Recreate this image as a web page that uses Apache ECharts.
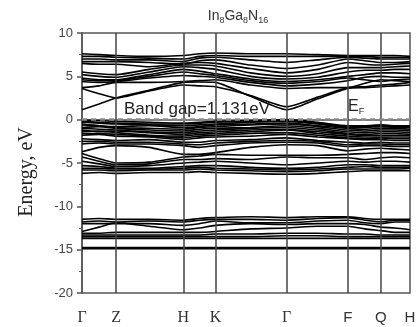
<!DOCTYPE html>
<html>
<head>
<meta charset="utf-8">
<script src="https://cdn.jsdelivr.net/npm/echarts@6/dist/echarts.min.js"></script>
<style>
  html, body { margin: 0; padding: 0; background: #fff; }
  #chart { width: 420px; height: 327px; }
</style>
</head>
<body>
<div id="chart"></div>
<script>
// k-path: high symmetry points (distance along path) and labels
var kPos = [0, 34, 101, 133, 204, 265, 298, 327];
var kLabels = ['Γ', 'Z', 'H', 'K', 'Γ', 'F', 'Q', 'H'];
// sample positions along the path where band energies were read
var kSamples = [0, 17, 34, 67, 101, 117, 133, 168, 204, 235, 265, 282, 298, 312, 327];

// conduction bands (eV)
var condBands = [
  [1.15, 1.8, 2.5, 3.4, 4.3, 4.35, 4.3, 2.7, 1.15, 2.4, 3.6, 3.7, 3.8, 3.9, 4.0],
  [3.6, 3.0, 2.5, 3.3, 4.0, 3.9, 3.8, 2.8, 1.5, 2.6, 3.7, 3.8, 4.0, 4.1, 4.3],
  [3.7, 3.9, 4.3, 4.3, 4.4, 4.5, 4.6, 4.0, 3.6, 3.7, 3.7, 4.2, 4.6, 4.5, 4.4],
  [4.4, 4.3, 4.4, 4.8, 5.1, 5.0, 4.9, 4.3, 3.9, 4.1, 4.5, 4.9, 5.0, 4.9, 4.9],
  [4.6, 4.5, 4.5, 5.0, 5.5, 5.3, 5.1, 4.5, 4.2, 4.4, 4.8, 4.6, 4.4, 4.6, 4.7],
  [4.8, 4.6, 4.6, 5.2, 5.8, 5.6, 5.3, 4.7, 4.4, 4.6, 5.0, 5.2, 5.4, 5.4, 5.3],
  [5.2, 5.0, 4.9, 5.5, 6.1, 6.0, 5.8, 5.0, 4.7, 4.9, 5.5, 5.7, 5.7, 5.8, 5.8],
  [5.5, 5.3, 5.2, 5.8, 6.3, 6.3, 6.2, 5.4, 5.0, 5.3, 6.0, 6.0, 6.0, 6.1, 6.2],
  [6.5, 6.4, 6.4, 6.1, 6.5, 6.6, 6.5, 5.9, 5.4, 5.8, 6.6, 6.4, 6.3, 6.4, 6.5],
  [6.7, 6.7, 6.7, 6.6, 6.4, 6.8, 6.9, 6.3, 5.9, 6.3, 7.0, 6.8, 6.6, 6.6, 6.7],
  [7.0, 7.0, 6.9, 6.9, 6.7, 7.1, 7.2, 6.9, 6.6, 6.9, 7.2, 7.1, 7.0, 7.0, 7.0],
  [7.3, 7.3, 7.2, 7.1, 7.0, 7.3, 7.4, 7.3, 7.3, 7.3, 7.3, 7.3, 7.2, 7.2, 7.2],
  [7.6, 7.5, 7.4, 7.3, 7.4, 7.6, 7.7, 7.6, 7.6, 7.5, 7.4, 7.4, 7.4, 7.4, 7.3]
];

// valence bands (eV)
var valBands = [
  [-0.05, -0.1, -0.2, -0.3, -0.4, -0.3, -0.2, -0.1, 0.0, -0.3, -0.7, -0.7, -0.6, -0.7, -0.7],
  [-0.2, -0.3, -0.4, -0.5, -0.5, -0.4, -0.3, -0.2, -0.1, -0.4, -0.8, -0.8, -0.7, -0.8, -0.8],
  [-0.3, -0.4, -0.5, -0.6, -0.7, -0.6, -0.5, -0.3, -0.2, -0.5, -0.9, -0.9, -0.8, -0.9, -0.9],
  [-0.5, -0.7, -0.8, -0.7, -0.9, -0.8, -0.6, -0.5, -0.4, -0.7, -1.0, -1.1, -1.0, -1.0, -1.1],
  [-0.6, -0.7, -0.9, -1.0, -1.1, -0.9, -0.8, -0.6, -0.5, -0.8, -1.2, -1.3, -1.2, -1.2, -1.3],
  [-0.9, -0.8, -1.0, -1.2, -1.3, -1.1, -1.0, -0.9, -0.7, -1.0, -1.4, -1.5, -1.4, -1.4, -1.5],
  [-1.0, -1.1, -1.2, -1.4, -1.5, -1.3, -1.2, -1.0, -0.9, -1.2, -1.6, -1.7, -1.6, -1.6, -1.7],
  [-1.2, -1.4, -1.3, -1.5, -1.7, -1.5, -1.4, -1.2, -1.1, -1.4, -1.7, -1.8, -1.8, -1.8, -1.8],
  [-1.4, -1.3, -1.5, -1.8, -1.9, -1.7, -1.6, -1.4, -1.2, -1.6, -1.9, -2.0, -2.0, -2.0, -2.0],
  [-1.6, -1.6, -1.7, -1.9, -2.1, -1.9, -1.8, -1.6, -1.5, -1.8, -2.1, -2.2, -2.1, -2.2, -2.2],
  [-1.8, -1.7, -1.9, -2.0, -2.3, -2.1, -2.0, -1.9, -1.7, -2.0, -2.2, -2.3, -2.3, -2.4, -2.4],
  [-2.2, -2.3, -2.4, -2.3, -2.6, -2.6, -2.4, -2.3, -2.1, -2.4, -2.6, -2.7, -2.6, -2.7, -2.7],
  [-2.5, -2.5, -2.6, -2.6, -2.8, -2.9, -2.7, -2.5, -2.4, -2.5, -2.9, -2.8, -2.8, -2.9, -2.9],
  [-2.8, -2.7, -2.8, -2.8, -3.0, -3.2, -3.0, -2.7, -2.6, -2.7, -3.1, -3.0, -3.0, -3.1, -3.1],
  [-3.7, -3.2, -3.0, -3.2, -4.0, -4.0, -3.8, -3.2, -2.9, -3.0, -3.6, -3.4, -3.3, -3.4, -3.5],
  [-3.9, -4.5, -5.0, -4.9, -4.3, -4.2, -4.0, -4.1, -4.1, -4.1, -4.0, -3.9, -3.8, -3.8, -3.9],
  [-4.3, -4.8, -5.2, -5.1, -4.6, -4.6, -4.5, -4.6, -4.3, -4.4, -4.4, -4.6, -4.4, -4.3, -4.4],
  [-4.8, -5.1, -5.4, -5.3, -5.0, -4.9, -4.8, -5.0, -5.2, -5.0, -4.8, -4.9, -4.8, -4.8, -4.9],
  [-5.3, -5.4, -5.6, -5.6, -5.4, -5.3, -5.3, -5.5, -5.6, -5.5, -5.2, -5.2, -5.3, -5.3, -5.3],
  [-5.6, -5.6, -5.7, -5.7, -5.6, -5.5, -5.6, -5.7, -5.8, -5.7, -5.5, -5.4, -5.5, -5.5, -5.5],
  [-5.8, -5.8, -5.9, -5.8, -5.8, -5.7, -5.8, -5.9, -6.0, -5.9, -5.7, -5.7, -5.7, -5.7, -5.6],
  [-6.2, -6.1, -6.2, -6.1, -6.1, -6.0, -6.1, -6.2, -6.3, -6.2, -6.0, -5.9, -5.9, -5.9, -5.9]
];

// low lying bands (eV)
var lowBands = [
  [-11.5, -11.4, -11.5, -11.5, -11.6, -11.4, -11.3, -11.2, -11.3, -11.2, -11.2, -11.4, -11.5, -11.5, -11.5],
  [-11.8, -11.7, -11.8, -11.7, -11.8, -11.6, -11.5, -11.5, -11.6, -11.4, -11.3, -11.6, -11.8, -11.6, -11.6],
  [-12.0, -12.0, -12.0, -12.0, -12.2, -12.0, -11.7, -11.9, -11.9, -11.7, -11.6, -11.9, -12.0, -11.8, -11.8],
  [-12.9, -12.4, -11.9, -12.3, -12.7, -12.5, -12.2, -12.0, -12.1, -12.0, -12.0, -12.1, -12.4, -12.5, -12.7],
  [-13.1, -13.1, -13.0, -13.0, -13.0, -13.0, -12.9, -12.6, -12.5, -12.3, -12.3, -12.6, -12.8, -13.0, -13.0],
  [-13.3, -13.3, -13.3, -13.3, -13.3, -13.3, -13.2, -13.2, -13.1, -13.1, -13.2, -13.2, -13.3, -13.3, -13.3],
  [-13.5, -13.5, -13.5, -13.5, -13.5, -13.5, -13.5, -13.5, -13.4, -13.4, -13.5, -13.5, -13.5, -13.5, -13.5],
  [-13.7, -13.7, -13.7, -13.7, -13.7, -13.7, -13.7, -13.7, -13.7, -13.7, -13.7, -13.7, -13.7, -13.7, -13.7],
  [-14.75, -14.75, -14.75, -14.75, -14.75, -14.75, -14.75, -14.75, -14.75, -14.75, -14.75, -14.75, -14.75, -14.75, -14.75],
  [-14.9, -14.9, -14.9, -14.9, -14.9, -14.9, -14.9, -14.9, -14.9, -14.9, -14.9, -14.9, -14.9, -14.9, -14.9]
];

var yTicks = [-20, -15, -10, -5, 0, 5, 10];

var chart = echarts.init(document.getElementById('chart'), null, { renderer: 'canvas' });

var series = [];
condBands.concat(valBands, lowBands).forEach(function (band) {
  series.push({
    type: 'line',
    data: band.map(function (e, i) { return [kSamples[i], e]; }),
    smooth: 0.2,
    showSymbol: false,
    silent: true,
    lineStyle: { color: '#000', width: 1.6 }
  });
});

// high symmetry verticals + Fermi level
series.push({
  type: 'line',
  data: [],
  silent: true,
  z: 5,
  markLine: {
    symbol: 'none',
    silent: true,
    label: { show: false },
    data: kPos.slice(1, -1).map(function (x) {
      return { xAxis: x, lineStyle: { color: '#444', width: 1.5, type: 'solid' } };
    }).concat([{ yAxis: 0, lineStyle: { color: '#8a8a8a', width: 2.5, type: [5, 4] } }])
  }
});

var sansLabels = { 'F': 1, 'Q': 1 };

chart.setOption({
  animation: false,
  backgroundColor: '#fff',
  grid: {
    left: 82, right: 10, top: 33, bottom: 34,
    show: true, borderColor: '#555', borderWidth: 1.5
  },
  xAxis: {
    type: 'value', min: 0, max: 327,
    axisLine: { show: true, lineStyle: { color: '#555', width: 1.5 } },
    axisTick: { show: false },
    splitLine: { show: false },
    axisLabel: {
      customValues: kPos,
      margin: 17,
      formatter: function (v) {
        var idx = kPos.indexOf(v);
        var lab = kLabels[idx];
        if (sansLabels[lab] || idx === kPos.length - 1) return '{s|' + lab + '}';
        return '{r|' + lab + '}';
      },
      rich: {
        r: { fontFamily: 'Liberation Serif', fontSize: 16, color: '#333' },
        s: { fontFamily: 'Liberation Sans', fontSize: 15, color: '#333' }
      }
    }
  },
  yAxis: {
    type: 'value', min: -20, max: 10, interval: 5,
    axisLine: { show: true, lineStyle: { color: '#555', width: 1.5 } },
    axisTick: { show: true, inside: false, length: 5, lineStyle: { color: '#555', width: 1.5 } },
    minorTick: { show: true, splitNumber: 2, length: 3, lineStyle: { color: '#555' } },
    splitLine: { show: false },
    axisLabel: {
      margin: 9,
      fontFamily: 'Liberation Sans', fontSize: 13, color: '#444',
      formatter: function (v) { return yTicks.indexOf(v) >= 0 ? String(v) : ''; }
    }
  },
  graphic: [
    {
      type: 'text', x: 238, y: 16,
      style: {
        text: 'In{s|8}Ga{s|8}N{s|16}',
        rich: { s: { fontSize: 9, padding: [9, 0, 0, 0], fontFamily: 'Liberation Sans', fill: '#333' } },
        fontFamily: 'Liberation Sans', fontSize: 14, fill: '#333',
        align: 'center', verticalAlign: 'middle'
      }
    },
    {
      type: 'text', x: 27, y: 172, rotation: Math.PI / 2,
      style: {
        text: 'Energy, eV',
        fontFamily: 'Liberation Serif', fontSize: 20, fill: '#222',
        align: 'center', verticalAlign: 'middle'
      }
    },
    {
      type: 'text', x: 124, y: 109, z: 51,
      style: {
        text: 'Band gap=1.131eV',
        fontFamily: 'Liberation Sans', fontSize: 17, fill: '#222',
        align: 'left', verticalAlign: 'middle'
      }
    },
    {
      type: 'text', x: 348, y: 107, z: 51,
      style: {
        text: 'E{s|F}',
        rich: { s: { fontSize: 9, padding: [10, 0, 0, 0], fontFamily: 'Liberation Sans', fill: '#222' } },
        fontFamily: 'Liberation Sans', fontSize: 16, fill: '#222',
        align: 'left', verticalAlign: 'middle'
      }
    }
  ],
  series: series
});
</script>
</body>
</html>
